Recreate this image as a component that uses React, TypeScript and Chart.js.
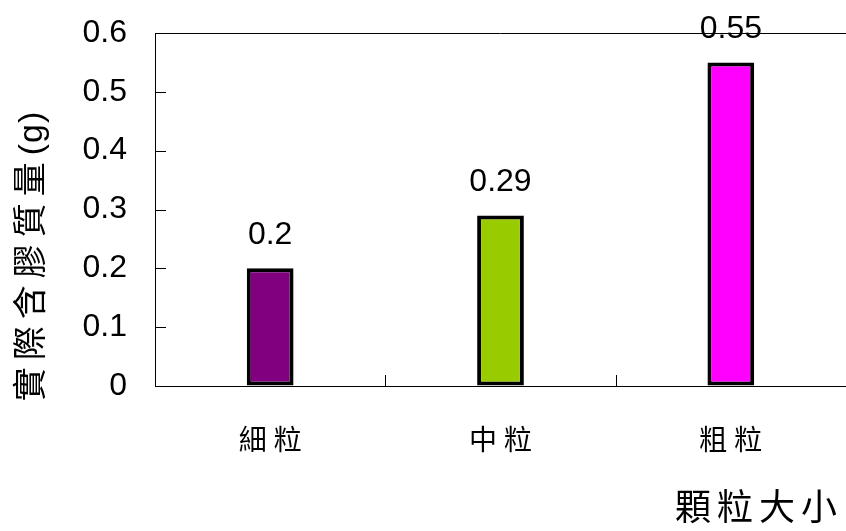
import { useEffect, useRef } from "react";
import { Chart, registerables } from "chart.js";

Chart.register(...registerables);

// Gel mass measured for each particle size
const categories = ["細粒", "中粒", "粗粒"];
const values = [0.2, 0.29, 0.55];
const barColors = ["#800080", "#99CC00", "#FF00FF"];
const yTickLabels = ["0", "0.1", "0.2", "0.3", "0.4", "0.5", "0.6"];
const yAxisTitle = "實際含膠質量(g)";
const xAxisTitle = "顆粒大小";

const LATIN = '"Liberation Sans", Arial, sans-serif';
const CJK = '"Liberation Sans", "Noto Sans CJK TC", sans-serif';

const decorations = {
  id: "decorations",
  afterDraw(chart: any) {
    const { ctx, chartArea, scales } = chart;
    const x = scales.x;
    const y = scales.y;
    ctx.save();

    // frame top edge
    ctx.strokeStyle = "#000";
    ctx.lineWidth = 1;
    ctx.beginPath();
    ctx.moveTo(chartArea.left, Math.round(chartArea.top) + 0.5);
    ctx.lineTo(chartArea.right, Math.round(chartArea.top) + 0.5);
    ctx.stroke();

    // inward tick marks on the value axis
    ctx.beginPath();
    y.ticks.forEach((t: any) => {
      const py = Math.round(y.getPixelForValue(t.value)) + 0.5;
      ctx.moveTo(chartArea.left, py);
      ctx.lineTo(chartArea.left + 11, py);
    });
    // inward tick marks between categories
    for (let i = 0; i <= categories.length; i++) {
      const px = Math.round(x.getPixelForValue(i - 0.5)) + 0.5;
      ctx.moveTo(px, chartArea.bottom);
      ctx.lineTo(px, chartArea.bottom - 11);
    }
    ctx.stroke();

    // value labels above bars
    const meta = chart.getDatasetMeta(0);
    ctx.fillStyle = "#000";
    ctx.font = `32px ${LATIN}`;
    ctx.textAlign = "center";
    ctx.textBaseline = "alphabetic";
    meta.data.forEach((bar: any, i: number) => {
      ctx.fillText(String(values[i]), bar.x, bar.y - 24);
    });

    // category labels
    ctx.font = `28px ${CJK}`;
    ctx.textBaseline = "middle";
    (ctx as any).letterSpacing = "7px";
    categories.forEach((c, i) => {
      ctx.fillText(c, x.getPixelForValue(i) + 3.5, 442);
    });

    // x axis title
    ctx.font = `36px ${CJK}`;
    (ctx as any).letterSpacing = "6px";
    ctx.fillText(xAxisTitle, 759, 510);

    // y axis title: spaced CJK characters followed by the unit
    const cut = yAxisTitle.indexOf("(");
    const words = yAxisTitle.slice(0, cut);
    const unit = yAxisTitle.slice(cut);
    ctx.translate(33, 256);
    ctx.rotate(-Math.PI / 2);
    ctx.textAlign = "left";
    ctx.font = `34px ${CJK}`;
    (ctx as any).letterSpacing = "7px";
    const wWords = ctx.measureText(words).width;
    (ctx as any).letterSpacing = "1px";
    const wUnit = ctx.measureText(unit).width;
    const start = -(wWords + wUnit) / 2;
    (ctx as any).letterSpacing = "7px";
    ctx.fillText(words, start, 0);
    (ctx as any).letterSpacing = "1px";
    ctx.fillText(unit, start + wWords, 0);

    ctx.restore();
  },
};

export default function App() {
  const canvasRef = useRef<HTMLCanvasElement>(null);

  useEffect(() => {
    const canvas = canvasRef.current;
    if (!canvas) return;
    const chart = new Chart(canvas, {
      type: "bar",
      data: {
        labels: categories,
        datasets: [
          {
            data: values,
            backgroundColor: barColors,
            borderColor: "#000",
            borderWidth: 4,
            borderSkipped: false,
            barPercentage: 0.203,
            categoryPercentage: 1,
          },
        ],
      },
      options: {
        responsive: false,
        animation: false,
        devicePixelRatio: 1,
        layout: { padding: { top: 33, left: 0, right: -2, bottom: 0 } },
        plugins: {
          legend: { display: false },
          tooltip: { enabled: false },
          title: { display: false },
        },
        scales: {
          x: {
            grid: { display: false, offset: true },
            border: { display: true, color: "#000", width: 1 },
            ticks: { display: false },
            afterFit(scale: any) {
              scale.height = 145;
              scale.paddingLeft = 0;
              scale.paddingRight = 0;
            },
          },
          y: {
            min: 0,
            max: 0.6,
            grid: { drawOnChartArea: false, drawTicks: false },
            border: { display: true, color: "#000", width: 1 },
            ticks: {
              stepSize: 0.1,
              padding: 28,
              color: "#000",
              font: { family: LATIN, size: 32 },
              callback: (_v: any, i: number) => yTickLabels[i],
            },
            afterFit(scale: any) {
              scale.width = 155;
              scale.paddingTop = 0;
              scale.paddingBottom = 0;
            },
          },
        },
      },
      plugins: [decorations],
    });
    return () => chart.destroy();
  }, []);

  return (
    <div style={{ position: "absolute", left: 0, top: 0, width: 846, height: 531, background: "#fff" }}>
      <canvas ref={canvasRef} width={846} height={531} />
    </div>
  );
}
